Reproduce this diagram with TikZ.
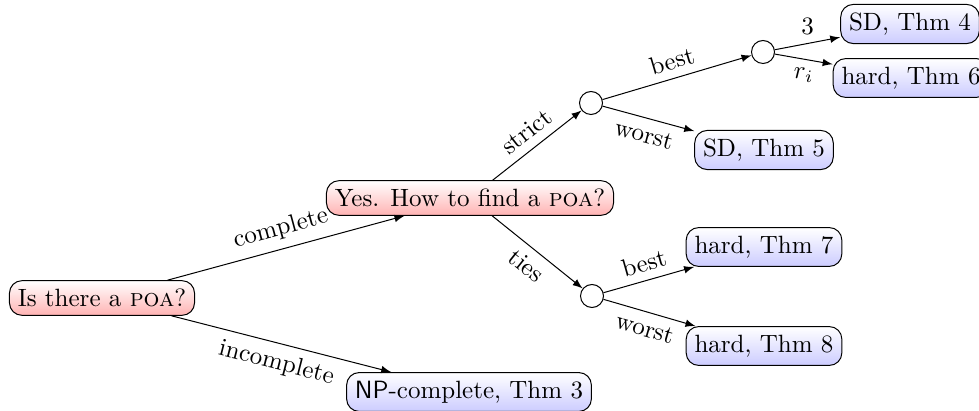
\documentclass[tikz,border=0pt]{standalone}
\usetikzlibrary{arrows}
\begin{document}
\begin{tikzpicture}[x=0.4pt,y=-0.4pt,
  qbox/.style={draw,rounded corners=5pt,top color=white,bottom color=red!30},
  abox/.style={draw,rounded corners=5pt,top color=white,bottom color=blue!20},
  cnode/.style={draw,circle,minimum size=9.2pt,inner sep=0pt,fill=white},
  edge/.style={-latex},
  lab/.style={sloped,midway}]
\useasboundingbox (0,0) rectangle (979,411);
\node[qbox] (q1) at (102,298) {Is there a \textsc{poa}?};
\node[qbox] (q2) at (470,198) {Yes. How to find a \textsc{poa}?};
\node[abox] (np) at (469,392) {\textsf{NP}-complete, Thm 3};
\node[cnode] (c1) at (591,103) {};
\node[cnode] (c2) at (592,296) {};
\node[cnode] (c3) at (763,52) {};
\node[abox] (sd4) at (910,24) {SD, Thm 4};
\node[abox] (h6) at (911,78) {hard, Thm 6};
\node[abox] (sd5) at (764,150) {SD, Thm 5};
\node[abox] (h7) at (764,247) {hard, Thm 7};
\node[abox] (h8) at (764,346) {hard, Thm 8};
\draw[edge] (q1) -- node[lab,above] {complete} (q2);
\draw[edge] (q1) -- node[lab,below] {incomplete} (np);
\draw[edge] (q2) -- node[lab,above] {strict} (c1);
\draw[edge] (q2) -- node[lab,below] {ties} (c2);
\draw[edge] (c1) -- node[lab,above] {best} (c3);
\draw[edge] (c1) -- node[lab,below] {worst} (sd5);
\draw[edge] (c3) -- node[midway,above] {3} (sd4);
\draw[edge] (c3) -- node[midway,below] {$r_i$} (h6);
\draw[edge] (c2) -- node[lab,above] {best} (h7);
\draw[edge] (c2) -- node[lab,below] {worst} (h8);
\end{tikzpicture}
\end{document}
